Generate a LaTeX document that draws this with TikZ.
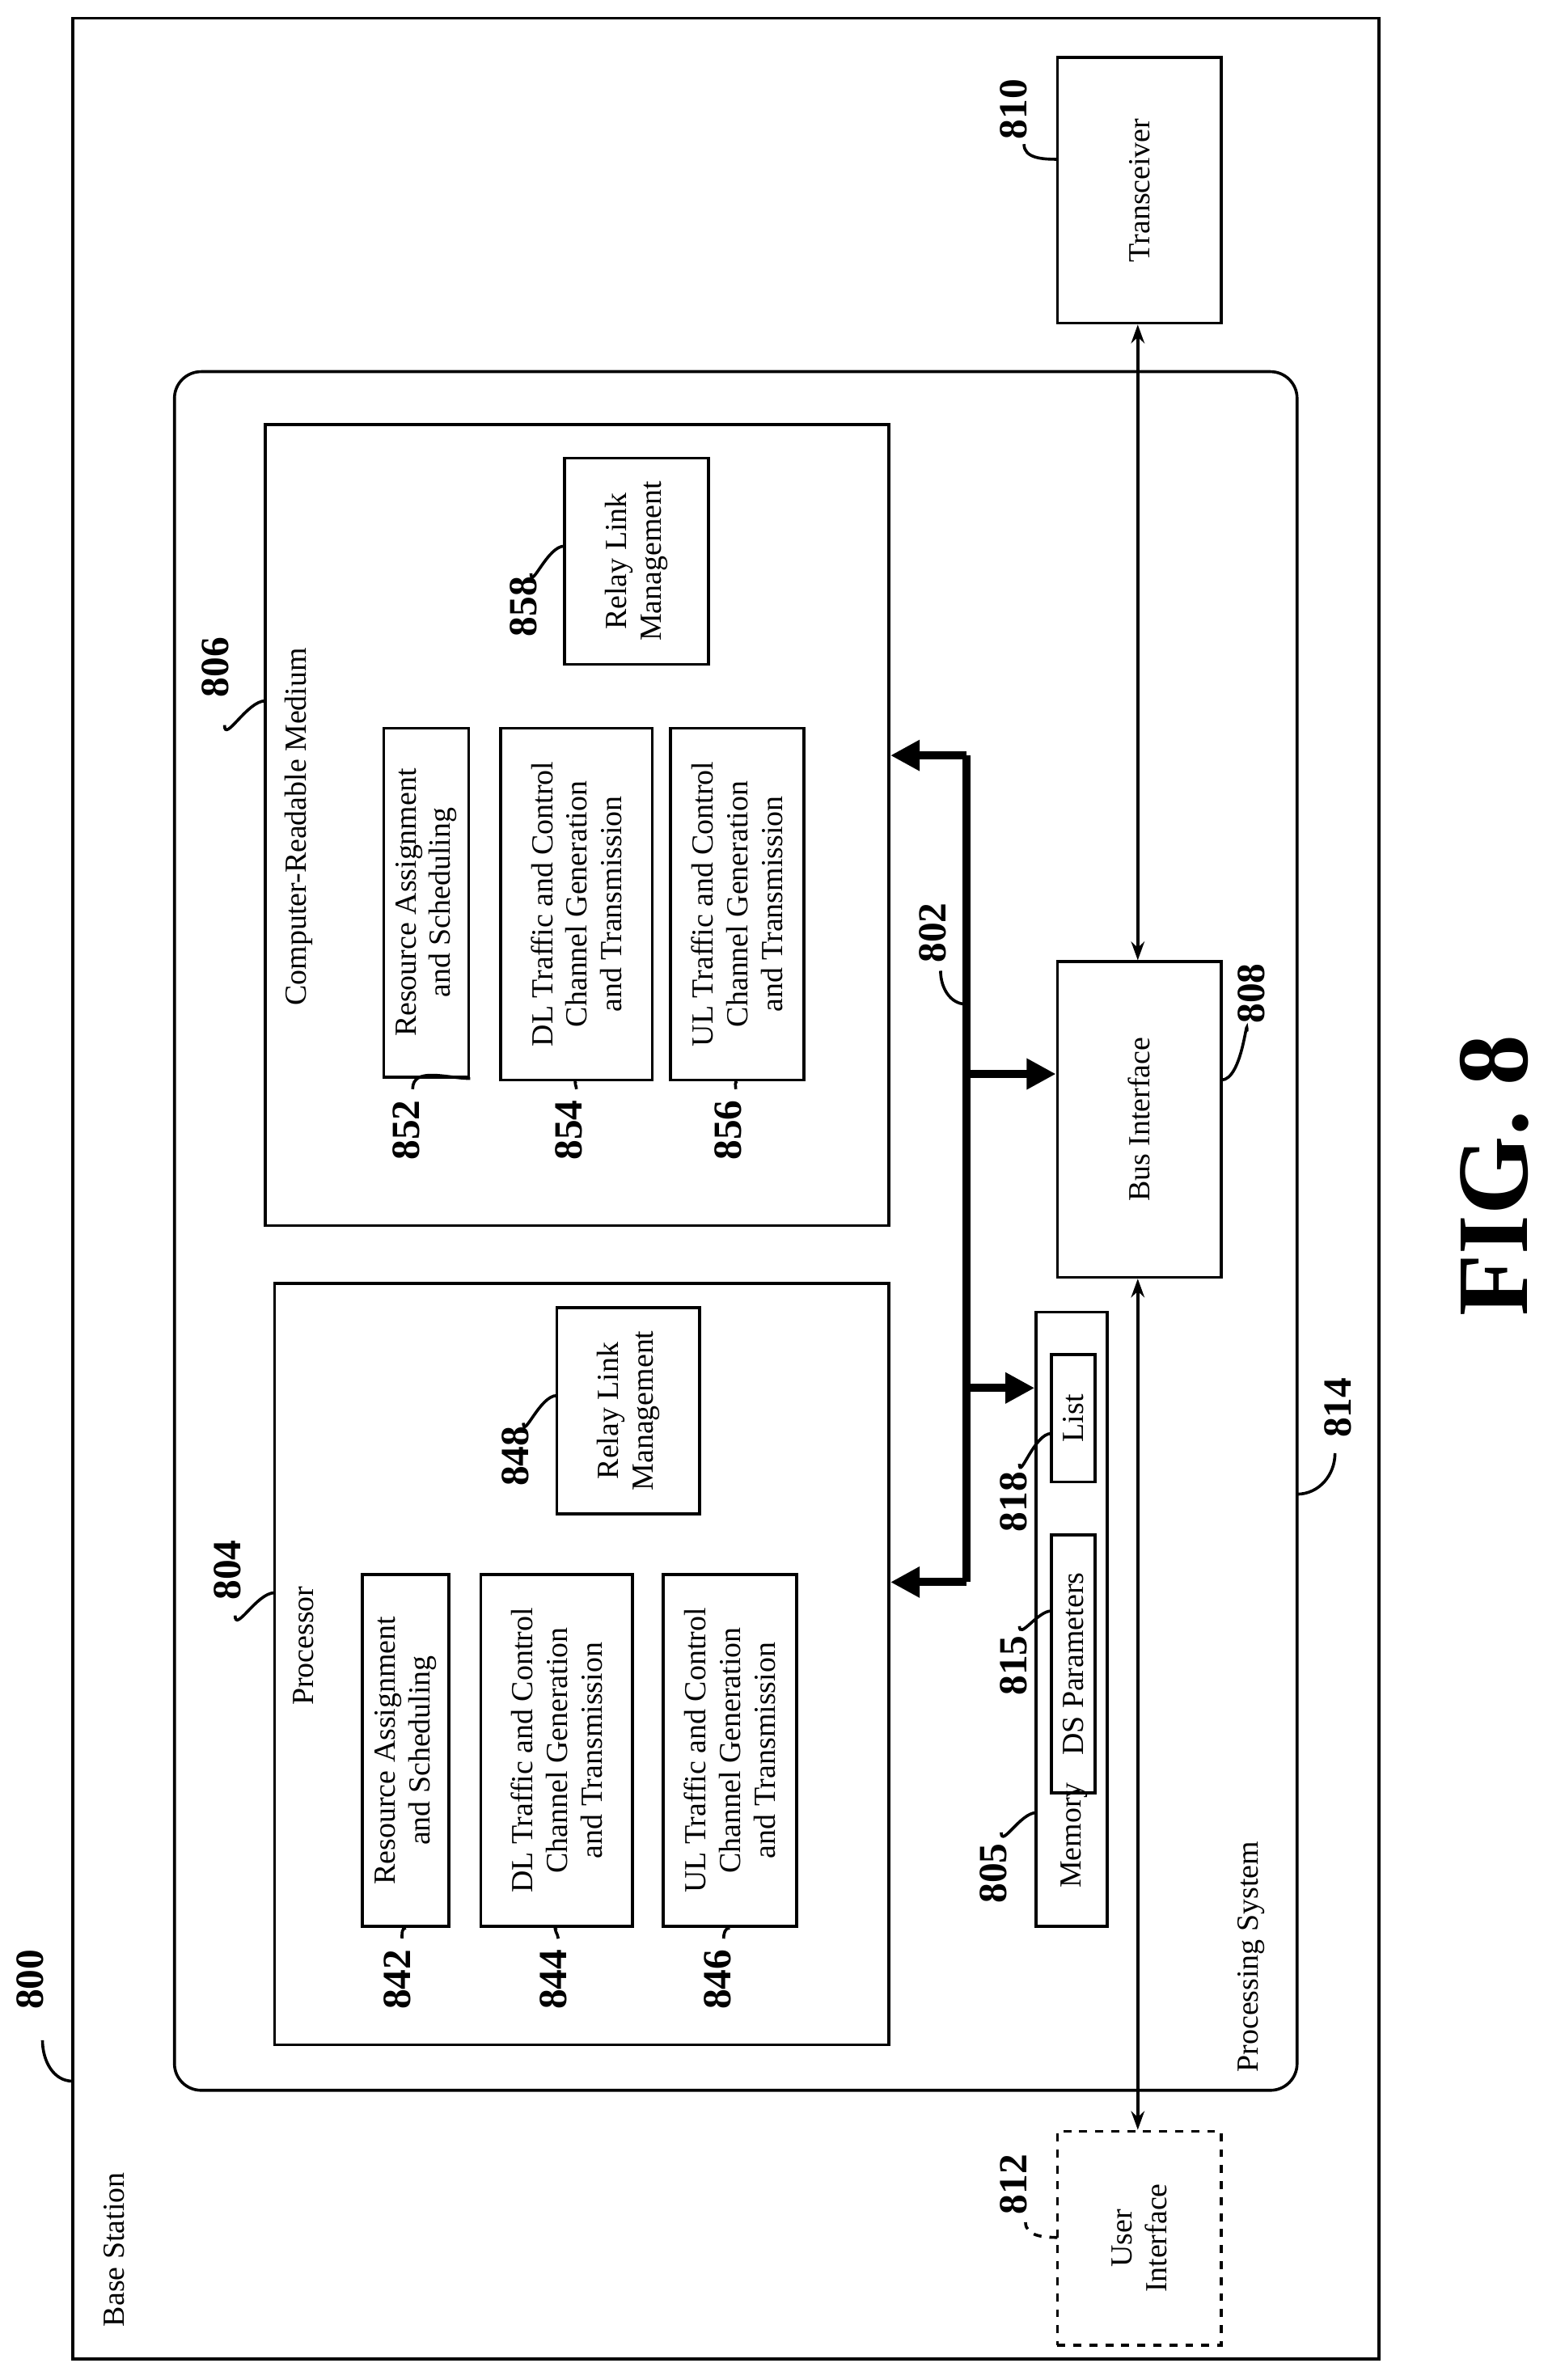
\documentclass[tikz,border=0pt]{standalone}
\usepackage{fontspec}
\setmainfont{Liberation Serif}
\usetikzlibrary{fit,arrows.meta}
\begin{document}
\begin{tikzpicture}[x=0.02cm,y=-0.02cm,
 box/.style={draw,line width=1.1pt,inner sep=0pt},
 txt/.style={rotate=90,align=center,font=\fontsize{11.5}{13}\selectfont},
 num/.style={rotate=90,font=\fontsize{15}{17}\selectfont\bfseries},
 lead/.style={line width=1.1pt},
 thin/.style={line width=1.1pt,{Stealth[length=7pt,width=5pt]}-{Stealth[length=7pt,width=5pt]}},
 bus/.style={line width=3pt},
 busarr/.style={line width=3pt,-{Triangle[length=11pt,width=11pt]}}]
\useasboundingbox (0,0) rectangle (1020,1569);
% outer
\node[box,fit={(48,12)(909,1555)}] (bs) {};
\node[txt,anchor=west] at (75,1540) {Base Station};
\node[num] (n800) at (20,1305) {800};
\draw[lead] (48,1372) to[out=180,in=-90] (28,1345);
% transceiver
\node[box,fit={(697,38)(805,213)}] (tr) {};
\node[txt] at (tr.center) {Transceiver};
\node[num] (n810) at (668,72) {810};
\draw[lead] (697,105) to[out=180,in=-90] (675,95);
% processing system
\draw[line width=1.1pt,rounded corners=10pt] (115,245) rectangle (855,1378);
\coordinate (ps) at (855,985);
\node[txt] at (825,1290) {Processing System};
\node[num] (n814) at (882,928) {814};
\draw[lead] (ps) to[out=0,in=-90] (880,958);
% CRM
\node[box,fit={(175,280)(586,808)}] (crm) {};
\node[txt] at (197,545) {Computer-Readable Medium};
\node[num] (n806) at (142,440) {806};
\draw[lead] (crm.north west |- 0,475) ++(0,0) coordinate (c806) (148,478) to[out=-90,in=180] (175,462);
\node[box,fit={(253,480)(309,710)}] (b852) {};
\node[txt] at (b852.center) {Resource Assignment\\and Scheduling};
\node[box,fit={(330,480)(430,712)}] (b854) {};
\node[txt] at (b854.center) {DL Traffic and Control\\Channel Generation\\and Transmission};
\node[box,fit={(442,480)(530,712)}] (b856) {};
\node[txt] at (b856.center) {UL Traffic and Control\\Channel Generation\\and Transmission};
\node[box,fit={(372,302)(467,438)}] (b858) {};
\node[txt] at (b858.center) {Relay Link\\Management};
\node[num] (n852) at (268,745) {852};
\node[num] (n854) at (375,745) {854};
\node[num] (n856) at (480,745) {856};
\node[num] (n858) at (345,400) {858};
\draw[lead] (272,718) to[out=90,in=180] (b852.south east);
\draw[lead] (380,718) to[out=90,in=180] (b854.south);
\draw[lead] (485,718) to[out=90,in=180] (b856.south);
\draw[lead] (350,378) to[out=-90,in=180] (372,360);
% processor
\node[box,fit={(181,846)(586,1348)}] (proc) {};
\node[txt] at (200,1085) {Processor};
\node[num] (n804) at (150,1035) {804};
\draw[lead] (155,1065) to[out=-90,in=180] (181,1050);
\node[box,fit={(239,1038)(296,1270)}] (b842) {};
\node[txt] at (b842.center) {Resource Assignment\\and Scheduling};
\node[box,fit={(317,1038)(417,1270)}] (b844) {};
\node[txt] at (b844.center) {DL Traffic and Control\\Channel Generation\\and Transmission};
\node[box,fit={(437,1038)(525,1270)}] (b846) {};
\node[txt] at (b846.center) {UL Traffic and Control\\Channel Generation\\and Transmission};
\node[box,fit={(367,862)(461,998)}] (b848) {};
\node[txt] at (b848.center) {Relay Link\\Management};
\node[num] (n842) at (262,1305) {842};
\node[num] (n844) at (365,1305) {844};
\node[num] (n846) at (473,1305) {846};
\node[num] (n848) at (340,960) {848};
\draw[lead] (265,1278) to[out=90,in=180] (b842.south);
\draw[lead] (368,1278) to[out=90,in=180] (b844.south);
\draw[lead] (477,1278) to[out=90,in=180] (b846.south);
\draw[lead] (345,938) to[out=-90,in=180] (367,920);
% memory
\node[box,fit={(683,865)(730,1270)}] (mem) {};
\node[txt] at (708,1210) {Memory};
\node[box,fit={(693,1012)(722,1182)}] (ds) {};
\node[txt] at (ds.center) {DS Parameters};
\node[box,fit={(693,893)(722,977)}] (list) {};
\node[txt] at (list.center) {List};
\node[num] (n805) at (655,1235) {805};
\node[num] (n815) at (668,1098) {815};
\node[num] (n818) at (668,990) {818};
\draw[lead] (660,1208) to[out=-90,in=180] (683,1195);
\draw[lead] (672,1072) to[out=-90,in=180] (693,1062);
\draw[lead] (672,965) to[out=-90,in=180] (693,945);
% bus interface
\node[box,fit={(697,634)(805,842)}] (bi) {};
\node[txt] at (bi.center) {Bus Interface};
\node[num] (n808) at (825,655) {808};
\draw[lead] (805,712) to[out=0,in=90] (822,680);
% user interface
\node[box,dashed,fit={(697,1405)(805,1546)}] (ui) {};
\node[txt] at (ui.center) {User\\Interface};
\node[num] (n812) at (668,1440) {812};
\draw[lead,dashed] (697,1475) to[out=180,in=-90] (676,1465);
% bus
\coordinate (bt) at (637,498);
\coordinate (bb) at (637,1043);
\coordinate (bj) at (637,708);
\coordinate (bm) at (637,915);
\draw[bus] (bt) -- (bb);
\draw[busarr] (bt) -- (crm.east |- bt);
\draw[busarr] (bb) -- (proc.east |- bb);
\draw[busarr] (bj) -- (bi.west |- bj);
\draw[busarr] (bm) -- (mem.west |- bm);
\node[num] (n802) at (615,615) {802};
\draw[lead] (620,640) to[out=-90,in=180] (637,662);
% thin links
\draw[thin] (tr.south -| 750,0) -- (bi.north -| 750,0);
\draw[thin] (bi.south -| 750,0) -- (ui.north -| 750,0);
\node[rotate=90,font=\fontsize{38}{40}\selectfont\bfseries] at (985,775) {FIG. 8};
\end{tikzpicture}
\end{document}
